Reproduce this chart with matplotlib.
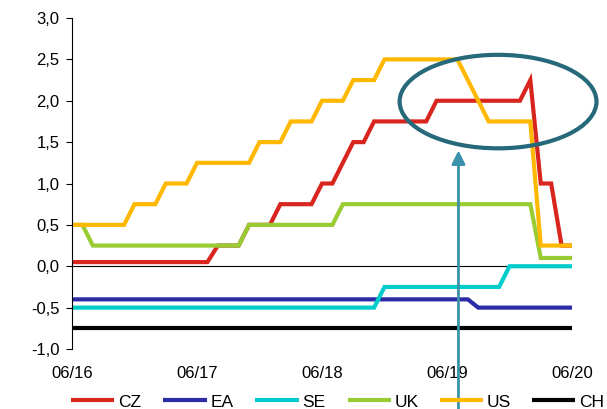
import matplotlib
matplotlib.use("Agg")
import matplotlib.pyplot as plt
from matplotlib.patches import Ellipse
from matplotlib.ticker import FuncFormatter, FixedLocator

plt.rcParams['font.family'] = ['Liberation Sans', 'DejaVu Sans']

# monthly observations, 06/2016 .. 06/2020
months = list(range(49))
xtick_pos = [0, 12, 24, 36, 48]
xtick_labels = ["06/16", "06/17", "06/18", "06/19", "06/20"]

cz = [0.05, 0.05, 0.05, 0.05, 0.05, 0.05, 0.05, 0.05, 0.05, 0.05, 0.05, 0.05, 0.05, 0.05,
      0.25, 0.25, 0.25, 0.5, 0.5, 0.5, 0.75, 0.75, 0.75, 0.75, 1.0, 1.0, 1.25, 1.5, 1.5,
      1.75, 1.75, 1.75, 1.75, 1.75, 1.75, 2.0, 2.0, 2.0, 2.0, 2.0, 2.0, 2.0, 2.0, 2.0,
      2.25, 1.0, 1.0, 0.25, 0.25]
ea = [-0.4, -0.4, -0.4, -0.4, -0.4, -0.4, -0.4, -0.4, -0.4, -0.4, -0.4, -0.4, -0.4,
      -0.4, -0.4, -0.4, -0.4, -0.4, -0.4, -0.4, -0.4, -0.4, -0.4, -0.4, -0.4, -0.4, -0.4,
      -0.4, -0.4, -0.4, -0.4, -0.4, -0.4, -0.4, -0.4, -0.4, -0.4, -0.4, -0.4,
      -0.5, -0.5, -0.5, -0.5, -0.5, -0.5, -0.5, -0.5, -0.5, -0.5]
se = [-0.5, -0.5, -0.5, -0.5, -0.5, -0.5, -0.5, -0.5, -0.5, -0.5, -0.5, -0.5, -0.5, -0.5, -0.5,
      -0.5, -0.5, -0.5, -0.5, -0.5, -0.5, -0.5, -0.5, -0.5, -0.5, -0.5, -0.5, -0.5, -0.5, -0.5,
      -0.25, -0.25, -0.25, -0.25, -0.25, -0.25, -0.25, -0.25, -0.25, -0.25, -0.25, -0.25,
      0.0, 0.0, 0.0, 0.0, 0.0, 0.0, 0.0]
uk = [0.5, 0.5, 0.25, 0.25, 0.25, 0.25, 0.25, 0.25, 0.25, 0.25, 0.25, 0.25, 0.25, 0.25, 0.25,
      0.25, 0.25, 0.5, 0.5, 0.5, 0.5, 0.5, 0.5, 0.5, 0.5, 0.5, 0.75, 0.75, 0.75, 0.75, 0.75,
      0.75, 0.75, 0.75, 0.75, 0.75, 0.75, 0.75, 0.75, 0.75, 0.75, 0.75, 0.75, 0.75, 0.75,
      0.1, 0.1, 0.1, 0.1]
us = [0.5, 0.5, 0.5, 0.5, 0.5, 0.5, 0.75, 0.75, 0.75, 1.0, 1.0, 1.0, 1.25, 1.25, 1.25, 1.25,
      1.25, 1.25, 1.5, 1.5, 1.5, 1.75, 1.75, 1.75, 2.0, 2.0, 2.0, 2.25, 2.25, 2.25, 2.5, 2.5,
      2.5, 2.5, 2.5, 2.5, 2.5, 2.5, 2.25, 2.0, 1.75, 1.75, 1.75, 1.75, 1.75, 0.25, 0.25,
      0.25, 0.25]
ch = [-0.75, -0.75, -0.75, -0.75, -0.75, -0.75, -0.75, -0.75, -0.75, -0.75, -0.75, -0.75,
      -0.75, -0.75, -0.75, -0.75, -0.75, -0.75, -0.75, -0.75, -0.75, -0.75, -0.75, -0.75,
      -0.75, -0.75, -0.75, -0.75, -0.75, -0.75, -0.75, -0.75, -0.75, -0.75, -0.75, -0.75,
      -0.75, -0.75, -0.75, -0.75, -0.75, -0.75, -0.75, -0.75, -0.75, -0.75, -0.75, -0.75,
      -0.75]

series_names = ["CZ", "EA", "SE", "UK", "US", "CH"]
series_colors = ["#d8261f", "#2b2ba8", "#00cccc", "#99cc33", "#ffb800", "#000000"]
yticks = [-1.0, -0.5, 0.0, 0.5, 1.0, 1.5, 2.0, 2.5, 3.0]

fig = plt.figure(figsize=(6.07, 4.09), dpi=100)
ax = fig.add_axes([72 / 607, 1 - 349 / 409, 500 / 607, 331 / 409])

ax.axhline(0, color="black", lw=0.8, zorder=1)

lines = []
for name, vals, col in zip(series_names, [cz, ea, se, uk, us, ch], series_colors):
    ln, = ax.plot(months, vals, color=col, lw=3.0, label=name, clip_on=False,
                  solid_joinstyle="miter", solid_capstyle="butt", zorder=2)
    lines.append(ln)

ax.set_xlim(0, 48)
ax.set_ylim(-1.0, 3.0)
ax.yaxis.set_major_locator(FixedLocator(yticks))
ax.yaxis.set_major_formatter(FuncFormatter(lambda v, p: f"{v:.1f}".replace(".", ",")))
ax.set_xticks(xtick_pos)
ax.set_xticklabels(xtick_labels)

for s in ["top", "right", "bottom"]:
    ax.spines[s].set_visible(False)
ax.spines["left"].set_color("black")
ax.spines["left"].set_linewidth(0.8)
ax.tick_params(axis="y", length=4, width=0.8, pad=5, labelsize=12)
ax.tick_params(axis="x", length=0, pad=12, labelsize=12)

# annotation: ellipse and arrow
ell = Ellipse((40.9, 1.99), 18.9, 1.13, fill=False, edgecolor="#26697b", lw=3.0,
              clip_on=False, zorder=4)
ax.add_patch(ell)

# legend: evenly spaced entries along the bottom
for k, ln in enumerate(lines):
    leg = fig.legend(handles=[ln], loc="center left",
                     bbox_to_anchor=((71 + 92.2 * k) / 607, 1 - 402 / 409),
                     frameon=False, fontsize=12.5, handlelength=2.5, handletextpad=0.22,
                     borderpad=0, borderaxespad=0)
    for h in leg.get_lines():
        h.set_linewidth(3.0)

ax.annotate("", xy=(37.1, 1.40), xytext=(37.1, -2.2),
            arrowprops=dict(arrowstyle="-|>,head_length=0.8,head_width=0.4",
                            color="#3a93a9", lw=2.0, shrinkA=0, shrinkB=0),
            annotation_clip=False, zorder=6)

fig.savefig("out.png", dpi=100)
